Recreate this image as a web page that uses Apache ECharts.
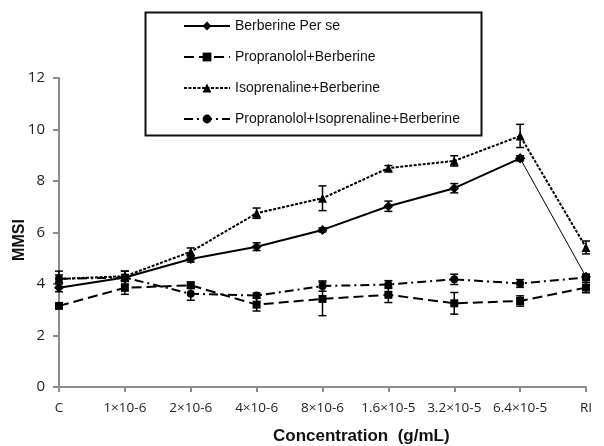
<!DOCTYPE html>
<html>
<head>
<meta charset="utf-8">
<script src="https://cdn.jsdelivr.net/npm/echarts@6/dist/echarts.min.js"></script>
<style>html,body{margin:0;padding:0;background:#fff}#c{width:604px;height:446px}</style>
</head>
<body>
<div id="c"></div>
<script>
var categories = ['C', '1×10-6', '2×10-6', '4×10-6', '8×10-6', '1.6×10-5', '3.2×10-5', '6.4×10-5', 'RI'];
var yTicks = [0, 2, 4, 6, 8, 10, 12];

var berberineName = 'Berberine Per se';
var berberine = [3.85, 4.25, 4.97, 5.45, 6.1, 7.02, 7.72, 8.88, 4.28];
var berberineErr = [0.15, 0.12, 0.12, 0.15, 0.08, 0.2, 0.18, 0.1, 0.1];

var propName = 'Propranolol+Berberine';
var prop = [3.15, 3.85, 3.95, 3.2, 3.42, 3.58, 3.25, 3.34, 3.86];
var propErr = [0.08, 0.25, 0.12, 0.25, 0.65, 0.3, 0.42, 0.2, 0.2];

var isoName = 'Isoprenaline+Berberine';
var iso = [4.2, 4.3, 5.25, 6.75, 7.33, 8.5, 8.78, 9.75, 5.42];
var isoErr = [0.15, 0.2, 0.15, 0.2, 0.48, 0.1, 0.2, 0.45, 0.25];

var pibName = 'Propranolol+Isoprenaline+Berberine';
var pib = [4.2, 4.25, 3.62, 3.55, 3.92, 3.98, 4.18, 4.02, 4.25];
var pibErr = [0.3, 0.25, 0.25, 0.1, 0.2, 0.15, 0.2, 0.15, 0.12];

var chart = echarts.init(document.getElementById('c'), null, {renderer: 'canvas'});

function errSeries(vals, errs) {
  return {
    type: 'custom',
    silent: true,
    z: 1,
    data: vals.map(function (v, i) { return [i, v, errs[i]]; }),
    renderItem: function (params, api) {
      var i = api.value(0), v = api.value(1), e = api.value(2);
      var top = api.coord([i, v + e]);
      var bot = api.coord([i, v - e]);
      var hw = 4;
      var st = {stroke: '#000', lineWidth: 1.5};
      return {
        type: 'group',
        children: [
          {type: 'line', shape: {x1: top[0], y1: top[1], x2: bot[0], y2: bot[1]}, style: st},
          {type: 'line', shape: {x1: top[0] - hw, y1: top[1], x2: top[0] + hw, y2: top[1]}, style: st},
          {type: 'line', shape: {x1: bot[0] - hw, y1: bot[1], x2: bot[0] + hw, y2: bot[1]}, style: st}
        ]
      };
    }
  };
}

var last = categories.length - 1;
var berberineMain = berberine.map(function (v, i) { return i < last ? v : '-'; });
var berberineTail = berberine.map(function (v, i) { return i >= last - 1 ? v : '-'; });

var option = {
  animation: false,
  backgroundColor: '#fff',
  grid: {left: 59, right: 18, top: 78, bottom: 59, containLabel: false},
  legend: {
    orient: 'vertical',
    left: 178,
    top: 14,
    itemWidth: 46,
    itemHeight: 11,
    itemGap: 17,
    data: [berberineName, propName, isoName, pibName],
    textStyle: {fontFamily: 'Liberation Sans', fontSize: 14, color: '#111'}
  },
  xAxis: {
    type: 'category',
    data: categories,
    boundaryGap: false,
    axisLine: {lineStyle: {color: '#8c8c8c', width: 2}},
    axisTick: {show: true, alignWithLabel: true, length: 5, lineStyle: {color: '#8c8c8c', width: 2}},
    axisLabel: {margin: 14, color: '#222', fontFamily: 'Open Sans', fontSize: 13.5, interval: 0},
    splitLine: {show: false}
  },
  yAxis: {
    type: 'value',
    min: yTicks[0],
    max: yTicks[yTicks.length - 1],
    interval: yTicks[1] - yTicks[0],
    axisLine: {show: true, lineStyle: {color: '#8c8c8c', width: 2}},
    axisTick: {show: true, length: 6, lineStyle: {color: '#8c8c8c', width: 2}},
    axisLabel: {margin: 14, color: '#222', fontFamily: 'Open Sans', fontSize: 15},
    splitLine: {show: false}
  },
  title: [
    {text: 'Concentration  (g/mL)', left: 273, top: 428, padding: 0, textStyle: {fontFamily: 'Liberation Sans', fontWeight: 'bold', fontSize: 17, color: '#111'}}
  ],
  graphic: [
    {type: 'rect', left: 143, top: 10, shape: {width: 336, height: 123}, style: {fill: 'none', stroke: '#111', lineWidth: 2}, z: 100},
    {type: 'text', x: 20, y: 240, rotation: Math.PI / 2, style: {text: 'MMSI', font: 'bold 16px "Liberation Sans"', fill: '#111', textAlign: 'center', textVerticalAlign: 'middle'}}
  ],
  series: [
    {
      name: berberineName, type: 'line', data: berberineMain, z: 5,
      symbol: 'diamond', symbolSize: 10, showSymbol: true,
      itemStyle: {color: '#000'}, lineStyle: {color: '#000', width: 2, type: 'solid'}
    },
    {
      name: berberineName + ' tail', type: 'line', data: berberineTail, z: 5,
      symbol: 'diamond', symbolSize: 10,
      itemStyle: {color: '#000'}, lineStyle: {color: '#000', width: 1, type: 'solid'}
    },
    {
      name: propName, type: 'line', data: prop, z: 5,
      symbol: 'rect', symbolSize: 8,
      itemStyle: {color: '#000'}, lineStyle: {color: '#000', width: 2, type: [10, 5]}
    },
    {
      name: isoName, type: 'line', data: iso, z: 5,
      symbol: 'triangle', symbolSize: 9,
      itemStyle: {color: '#000'}, lineStyle: {color: '#000', width: 2, type: [3, 1.5]}
    },
    {
      name: pibName, type: 'line', data: pib, z: 5,
      symbol: 'circle', symbolSize: 8,
      itemStyle: {color: '#000'}, lineStyle: {color: '#000', width: 2, type: [9, 4, 2, 4]}
    },
    errSeries(berberine, berberineErr),
    errSeries(prop, propErr),
    errSeries(iso, isoErr),
    errSeries(pib, pibErr)
  ]
};
chart.setOption(option);
</script>
</body>
</html>
